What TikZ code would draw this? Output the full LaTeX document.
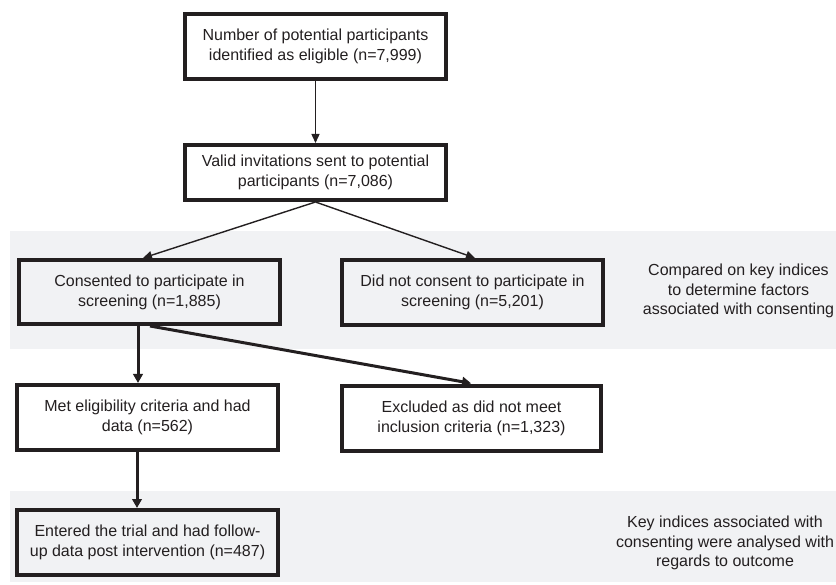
\documentclass[tikz,border=0pt]{standalone}
\usepackage{fontspec}
\setmainfont{Liberation Sans}
\usetikzlibrary{arrows.meta}
\definecolor{ink}{HTML}{231F20}
\definecolor{bandgray}{HTML}{F1F2F4}
\begin{document}
\begin{tikzpicture}[x=1pt,y=-1pt,
  every node/.style={font=\fontsize{16pt}{20pt}\selectfont, text=ink, align=center, inner sep=0pt},
  flowbox/.style={draw=ink, line width=4pt, rectangle, minimum width=261pt, minimum height=65pt},
  note/.style={font=\fontsize{16pt}{19.5pt}\selectfont},
  thinarrow/.style={draw=ink, line width=1.4pt, -{Triangle[length=9pt,width=8pt]}},
  thickarrow/.style={draw=ink, line width=3pt, -{Triangle[length=9pt,width=9.5pt]}},
  band/.style={fill=bandgray}
]
\useasboundingbox (0,0) rectangle (836,585);
\fill[band] (10,231) rectangle (836,349);
\fill[band] (10,491) rectangle (836,582);

\node[flowbox] (b1) at (315.5,46.5) {Number of potential participants\\identified as eligible (n=7,999)};
\node[flowbox, minimum height=55pt] (b2) at (315.5,172.5) {Valid invitations sent to potential\\participants (n=7,086)};
\node[flowbox, minimum height=64pt] (b3) at (149.5,292) {Consented to participate in\\screening (n=1,885)};
\node[flowbox] (b4) at (472.5,292.5) {Did not consent to participate in\\screening (n=5,201)};
\node[flowbox] (b5) at (147.5,417.5) {Met eligibility criteria and had\\data (n=562)};
\node[flowbox, minimum width=259pt] (b6) at (471.5,418.5) {Excluded as did not meet\\inclusion criteria (n=1,323)};
\node[flowbox] (b7) at (147.5,542.5) {Entered the trial and had follow-\\up data post intervention (n=487)};

\node[note] (n1) at (738.5,291) {Compared on key indices\\to determine factors\\associated with consenting};
\node[note] (n2) at (725,543) {Key indices associated with\\consenting were analysed with\\regards to outcome};

\draw[thinarrow] (b1.south) -- (b2.north);
\draw[thinarrow] (b2.south) -- ([xshift=-6.5pt]b3.north);
\draw[thinarrow] (b2.south) -- ([xshift=2.5pt]b4.north);
\draw[thickarrow] ([xshift=-11.5pt]b3.south) -- ([xshift=-9.5pt]b5.north);
\draw[thickarrow, shorten >=4pt] ([xshift=0.5pt]b3.south) -- ([xshift=3.5pt]b6.north);
\draw[thickarrow] ([xshift=-10.5pt]b5.south) -- ([xshift=-10.5pt]b7.north);
\end{tikzpicture}
\end{document}
